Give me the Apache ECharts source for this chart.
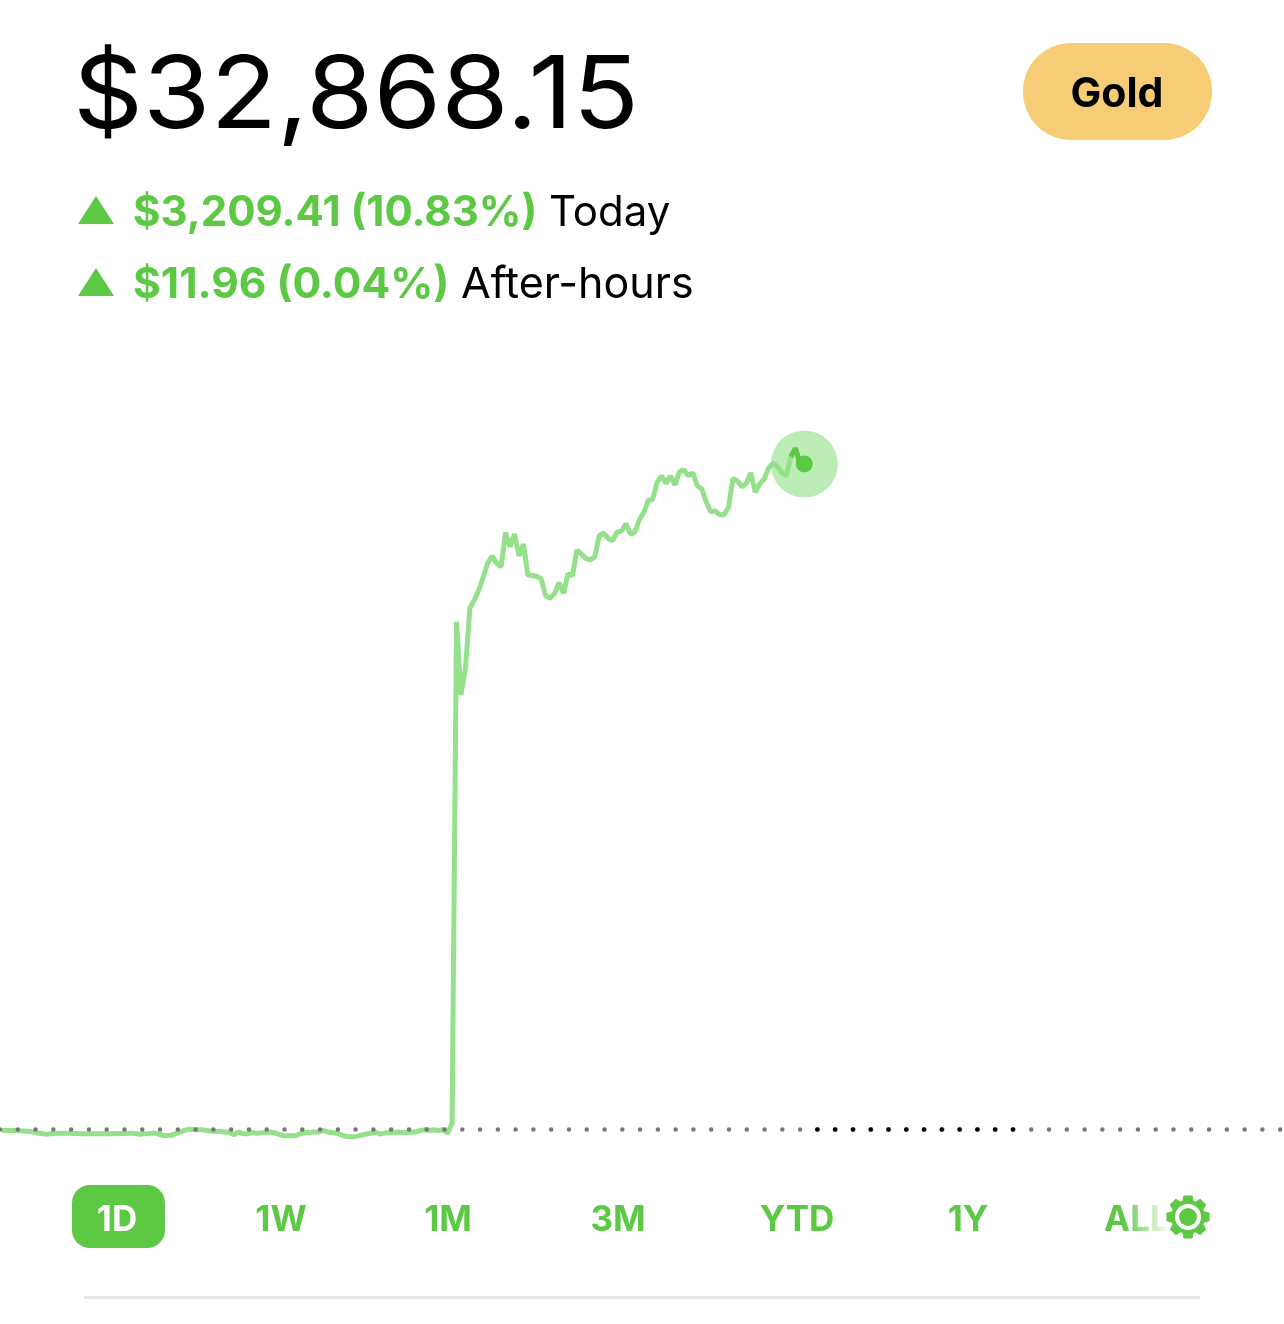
<!DOCTYPE html>
<html>
<head>
<meta charset="utf-8">
<title>Gold portfolio 1D</title>
<script src="https://cdn.jsdelivr.net/npm/echarts@6/dist/echarts.min.js"></script>
<style>
  html, body { margin: 0; padding: 0; background: #fff; }
  #main { width: 1284px; height: 1324px; }
</style>
</head>
<body>
<div id="main"></div>
<script>
// account value every 5 minutes
const overnightValues = [
  29651, 29651, 29651, 29651, 29649, 29648, 29646, 29644, 29639, 29636,
  29633, 29635, 29636, 29638, 29638, 29638, 29636, 29636, 29635, 29635,
  29635, 29635, 29635, 29635, 29635, 29636, 29635, 29636, 29636, 29638,
  29636, 29633, 29635, 29636, 29638, 29635, 29628, 29625, 29628, 29635,
  29643, 29651, 29657, 29656, 29654, 29654, 29651, 29648, 29646, 29646,
  29644, 29643, 29630, 29644, 29635, 29635, 29641, 29638, 29639, 29641,
  29643, 29641, 29633, 29627, 29625, 29625, 29627, 29635, 29641, 29641,
  29643, 29643, 29651, 29644, 29641, 29638, 29631, 29623, 29620, 29620,
  29625, 29630, 29635, 29638, 29641, 29633, 29639, 29641, 29641, 29643,
  29641, 29641, 29643, 29644, 29651, 29654, 29651, 29654, 29651, 29654,
  29638, 29686
];
const dayValues = [
  32107, 31753, 31884, 32173, 32212, 32260, 32323, 32390, 32424, 32390,
  32372, 32537, 32469, 32530, 32425, 32482, 32332, 32330, 32325, 32313,
  32232, 32220, 32244, 32295, 32244, 32337, 32329, 32453, 32434, 32412,
  32405, 32421, 32522, 32534, 32510, 32498, 32539, 32545, 32580, 32530,
  32539, 32598, 32635, 32691, 32698, 32780, 32810, 32775, 32810, 32767,
  32831, 32841, 32812, 32826, 32764, 32748, 32686, 32638, 32641, 32624,
  32622, 32659, 32799, 32786, 32759, 32775, 32826, 32732, 32772, 32796,
  32848, 32872, 32855, 32826, 32810, 32904, 32944, 32872, 32868
];
const previousClose = 29658.74;
const tabLabels = ['1D', '1W', '1M', '3M', 'YTD', '1Y', 'ALL'];

const green = '#5cc843';
const paleGreen = '#94e08b';
const font = 'Inter, "Noto Sans", sans-serif';

const values = overnightValues.concat(dayValues);
const points = values.map((v, i) => [i, v]);
const lastIndex = points.length - 1;

function text(str, x, y, size, weight, fill, align) {
  return {
    type: 'text',
    z: 10,
    style: {
      text: str,
      x: x,
      y: y,
      font: weight + ' ' + size + 'px ' + font,
      fill: fill,
      textAlign: align || 'left',
      textVerticalAlign: 'middle'
    }
  };
}

function triangle(x, y) {
  return {
    type: 'polygon',
    shape: { points: [[x, y + 28], [x + 18, y], [x + 36, y + 28]] },
    style: { fill: green }
  };
}

// settings cog next to ALL
function cogPoints(cx, cy) {
  const pts = [];
  for (let t = 0; t < 8; t++) {
    const a = (t * Math.PI) / 4 - Math.PI / 2;
    [[-0.34, 17], [-0.2, 22], [0.2, 22], [0.34, 17]].forEach(p => {
      pts.push([cx + p[1] * Math.cos(a + p[0]), cy + p[1] * Math.sin(a + p[0])]);
    });
  }
  return pts;
}

const tabX = [117, 281, 448, 618, 797, 968, 1104];
const tabs = tabLabels.map((label, i) => {
  if (label === 'ALL') return text(label, tabX[i], 1220, 35, 700, green, 'left');
  return text(label, tabX[i], 1220, 35, 700, i === 0 ? '#fff' : green, 'center');
});

// the big amount is a bit wider than Inter sets it
const bigAmount = text('$32,868.15', 0, 0, 101, 400, '#000');
bigAmount.x = 73;
bigAmount.y = 98;
bigAmount.scaleX = 1.081;

const myChart = echarts.init(document.getElementById('main'));
const option = {
  animation: false,
  backgroundColor: '#ffffff',
  grid: { left: 0, top: 416, width: 1284, height: 725 },
  xAxis: { type: 'value', min: -0.4, max: 287.6, show: false },
  yAxis: { type: 'value', min: 29600, max: 33100, show: false },
  series: [
    {
      type: 'scatter',
      z: 1,
      silent: true,
      symbolSize: 67,
      itemStyle: { color: '#bdedb7', opacity: 1 },
      data: [points[lastIndex]]
    },
    {
      type: 'line',
      z: 2,
      silent: true,
      symbol: 'none',
      lineStyle: { color: paleGreen, width: 5 },
      data: points,
      markLine: {
        silent: true,
        symbol: 'none',
        label: { show: false },
        lineStyle: { color: '#77777a', width: 4.5, type: [0.01, 17.77], cap: 'round' },
        data: [
          [{ coord: [-0.4, previousClose] }, { coord: [287.6, previousClose] }],
          [
            { coord: [182.9, previousClose], lineStyle: { color: '#000', width: 4.5, type: [0.01, 17.77], cap: 'round' } },
            { coord: [227.4, previousClose] }
          ]
        ]
      }
    },
    {
      type: 'line',
      z: 3,
      silent: true,
      symbol: 'none',
      lineStyle: { color: green, width: 5 },
      data: points.slice(lastIndex - 3)
    },
    {
      type: 'scatter',
      z: 4,
      silent: true,
      symbolSize: 17,
      itemStyle: { color: green, opacity: 1 },
      data: [points[lastIndex]]
    }
  ],
  graphic: [
    bigAmount,
    { type: 'rect', shape: { x: 1023, y: 43, width: 189, height: 97, r: 48 }, style: { fill: '#f6cd76' } },
    text('Gold', 1117, 95, 41, 700, '#000', 'center'),

    triangle(78, 196),
    text('$3,209.41 (10.83%)', 133, 213, 42, 700, green),
    text('Today', 549, 213, 42, 400, '#000'),
    triangle(78, 268),
    text('$11.96 (0.04%)', 133, 285, 42.5, 700, green),
    text('After-hours', 461, 285, 43, 400, '#000'),

    { type: 'rect', shape: { x: 72, y: 1185, width: 93, height: 63, r: 18 }, style: { fill: green } },
    ...tabs,
    {
      type: 'rect',
      z: 11,
      shape: { x: 1122, y: 1195, width: 48, height: 46 },
      style: {
        fill: new echarts.graphic.LinearGradient(0, 0, 1, 0, [
          { offset: 0, color: 'rgba(255,255,255,0)' },
          { offset: 1, color: 'rgba(255,255,255,1)' }
        ])
      }
    },
    { type: 'polygon', z: 12, shape: { points: cogPoints(1188, 1217) }, style: { fill: green } },
    { type: 'circle', z: 13, shape: { cx: 1188, cy: 1217, r: 13 }, style: { fill: '#fff' } },
    { type: 'circle', z: 14, shape: { cx: 1188, cy: 1217, r: 9 }, style: { fill: green } },

    { type: 'rect', shape: { x: 84, y: 1296, width: 1116, height: 3 }, style: { fill: '#e4e6ec' } }
  ]
};
myChart.setOption(option);
</script>
</body>
</html>
